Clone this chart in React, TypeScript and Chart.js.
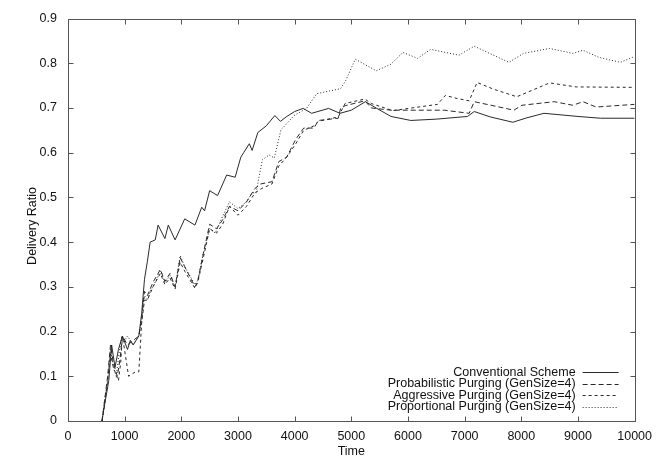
import React, { useEffect, useRef } from "react";
import { Chart, registerables } from "chart.js";

Chart.register(...registerables);

// ---- data (time, delivery ratio) ----
const conventional: [number, number][] = [
  [600, 0], [650, 0.04], [720, 0.09], [770, 0.17], [830, 0.12], [890, 0.16],
  [960, 0.19], [1050, 0.16], [1100, 0.18], [1150, 0.17], [1250, 0.19], [1300, 0.24],
  [1350, 0.317], [1400, 0.356], [1450, 0.4], [1540, 0.405], [1590, 0.438],
  [1710, 0.408], [1770, 0.438], [1890, 0.405], [2060, 0.452], [2240, 0.438],
  [2360, 0.478], [2410, 0.47], [2500, 0.515], [2640, 0.504], [2800, 0.55],
  [2950, 0.545], [3050, 0.59], [3100, 0.6], [3200, 0.62], [3250, 0.605], [3350, 0.645],
  [3500, 0.66], [3650, 0.683], [3750, 0.67], [3850, 0.68], [4000, 0.692], [4150, 0.699],
  [4300, 0.688], [4600, 0.699], [4800, 0.688], [5000, 0.695], [5250, 0.714], [5450, 0.699],
  [5700, 0.681], [6050, 0.672], [6500, 0.675], [7050, 0.681], [7170, 0.692], [7450, 0.68],
  [7850, 0.668], [8100, 0.678], [8400, 0.688], [9000, 0.681], [9400, 0.677], [10000, 0.677],
];

const probabilistic: [number, number][] = [
  [600, 0], [650, 0.05], [700, 0.1], [750, 0.17], [800, 0.13], [870, 0.1], [920, 0.14],
  [960, 0.19], [1050, 0.17], [1150, 0.18], [1250, 0.19], [1300, 0.23], [1350, 0.29],
  [1400, 0.28], [1500, 0.31], [1630, 0.339], [1710, 0.312], [1800, 0.33], [1890, 0.3],
  [1980, 0.365], [2060, 0.345], [2240, 0.3], [2290, 0.312], [2380, 0.37], [2500, 0.44],
  [2620, 0.43], [2730, 0.45], [2850, 0.48], [3000, 0.47], [3150, 0.49], [3300, 0.52],
  [3400, 0.53], [3600, 0.535], [3720, 0.58], [3860, 0.59], [4020, 0.63], [4160, 0.655],
  [4340, 0.655], [4420, 0.672], [4770, 0.677], [4810, 0.699], [4890, 0.705], [5240, 0.716],
  [5350, 0.7], [5700, 0.695], [6640, 0.695], [7080, 0.688], [7170, 0.714], [7870, 0.695],
  [8010, 0.706], [8580, 0.714], [8910, 0.706], [9090, 0.714], [9320, 0.702], [10000, 0.708],
];

const aggressive: [number, number][] = [
  [600, 0], [650, 0.04], [700, 0.09], [750, 0.15], [800, 0.12], [890, 0.09], [930, 0.13],
  [960, 0.19], [1070, 0.1], [1190, 0.11], [1250, 0.11], [1300, 0.22], [1350, 0.27],
  [1400, 0.27], [1500, 0.3], [1630, 0.33], [1710, 0.305], [1800, 0.32], [1890, 0.295],
  [1980, 0.355], [2060, 0.335], [2240, 0.297], [2290, 0.31], [2380, 0.36], [2500, 0.43],
  [2620, 0.42], [2730, 0.44], [2850, 0.48], [3000, 0.46], [3150, 0.48], [3300, 0.51],
  [3420, 0.52], [3600, 0.53], [3720, 0.57], [3860, 0.59], [4020, 0.62], [4160, 0.65],
  [4340, 0.66], [4420, 0.67], [4770, 0.68], [4890, 0.71], [5240, 0.72], [5350, 0.71],
  [5730, 0.694], [6520, 0.708], [6660, 0.728], [6870, 0.721], [7080, 0.716], [7220, 0.757],
  [7510, 0.742], [7920, 0.725], [8500, 0.756], [8970, 0.747], [10000, 0.746],
];

const proportional: [number, number][] = [
  [600, 0], [650, 0.05], [700, 0.09], [750, 0.16], [800, 0.12], [850, 0.1], [900, 0.15],
  [950, 0.19], [1000, 0.18], [1050, 0.19], [1150, 0.17], [1250, 0.19], [1300, 0.22],
  [1350, 0.28], [1400, 0.27], [1450, 0.29], [1500, 0.3], [1630, 0.335], [1710, 0.31],
  [1800, 0.325], [1890, 0.3], [1980, 0.37], [2060, 0.345], [2240, 0.305], [2290, 0.315],
  [2380, 0.37], [2500, 0.43], [2600, 0.42], [2700, 0.45], [2850, 0.49],
  [3000, 0.475], [3150, 0.49], [3250, 0.51], [3320, 0.511], [3430, 0.584], [3550, 0.595],
  [3640, 0.588], [3760, 0.652], [3810, 0.658], [3990, 0.683], [4210, 0.699], [4390, 0.732],
  [4810, 0.743], [4900, 0.761], [5070, 0.809], [5440, 0.783], [5700, 0.798], [5910, 0.824],
  [6170, 0.811], [6400, 0.831], [6900, 0.818], [7170, 0.838], [7780, 0.802], [8040, 0.822],
  [8500, 0.833], [8910, 0.822], [9090, 0.829], [9370, 0.813], [9750, 0.802], [10000, 0.815],
];

const seriesLabels = [
  "Conventional Scheme",
  "Probabilistic Purging (GenSize=4)",
  "Aggressive Purging (GenSize=4)",
  "Proportional Purging (GenSize=4)",
];
const seriesDashes: number[][] = [[], [5, 3], [3, 3], [1, 2]];
const xTitle = "Time";
const yTitle = "Delivery Ratio";
const xMin = 0, xMax = 10000, xStep = 1000;
const yMin = 0, yMax = 0.9, yStep = 0.1;

const FONT = "'Liberation Sans', Arial, sans-serif";
const LINE = "#2a2a2a";
const AXIS = "#555";

const framePlugin = {
  id: "gnuplotFrame",
  afterDraw(chart: any) {
    const { ctx, chartArea: a, scales } = chart;
    ctx.save();
    ctx.strokeStyle = AXIS;
    ctx.lineWidth = 1;
    const L = Math.round(a.left) + 0.5, R = Math.round(a.right) + 0.5;
    const T = Math.round(a.top) + 0.5, B = Math.round(a.bottom) + 0.5;
    ctx.strokeRect(L, T, R - L, B - T);
    const tl = 5;
    ctx.beginPath();
    scales.x.ticks.forEach((t: any) => {
      const px = Math.round(scales.x.getPixelForValue(t.value)) + 0.5;
      ctx.moveTo(px, B); ctx.lineTo(px, B - tl);
      ctx.moveTo(px, T); ctx.lineTo(px, T + tl);
    });
    scales.y.ticks.forEach((t: any) => {
      const py = Math.round(scales.y.getPixelForValue(t.value)) + 0.5;
      ctx.moveTo(L, py); ctx.lineTo(L + tl, py);
      ctx.moveTo(R, py); ctx.lineTo(R - tl, py);
    });
    ctx.stroke();

    // axis titles
    ctx.fillStyle = "#111";
    ctx.font = `12.5px ${FONT}`;
    ctx.textAlign = "center";
    ctx.textBaseline = "middle";
    ctx.fillText(xTitle, (a.left + a.right) / 2, 452);
    ctx.save();
    ctx.translate(33, 226);
    ctx.rotate(-Math.PI / 2);
    ctx.fillText(yTitle, 0, 0);
    ctx.restore();

    // legend (gnuplot style, inside bottom-right)
    const textRight = a.right - 59;
    const sx0 = a.right - 52, sx1 = a.right - 16;
    const rowH = 11.6;
    const y0 = a.bottom - 14 - rowH * (chart.data.datasets.length - 1);
    ctx.textAlign = "right";
    chart.data.datasets.forEach((ds: any, i: number) => {
      const y = y0 + i * rowH;
      ctx.fillStyle = "#111";
      ctx.fillText(ds.label, textRight, y);
      ctx.strokeStyle = ds.borderColor;
      ctx.lineWidth = 1;
      ctx.setLineDash(ds.borderDash || []);
      ctx.beginPath();
      ctx.moveTo(sx0, Math.round(y) + 0.5);
      ctx.lineTo(sx1, Math.round(y) + 0.5);
      ctx.stroke();
      ctx.setLineDash([]);
    });
    ctx.restore();
  },
};

export default function App() {
  const ref = useRef<HTMLCanvasElement | null>(null);
  useEffect(() => {
    if (!ref.current) return;
    const all = [conventional, probabilistic, aggressive, proportional];
    const chart = new Chart(ref.current, {
      type: "line",
      data: {
        datasets: all.map((s, i) => ({
          label: seriesLabels[i],
          data: s.map(([x, y]) => ({ x, y })),
          borderColor: LINE,
          borderWidth: 1,
          borderDash: seriesDashes[i],
          pointRadius: 0,
          fill: false,
          tension: 0,
        })),
      },
      options: {
        animation: false,
        responsive: false,
        maintainAspectRatio: false,
        layout: { padding: { top: 14, right: 22, left: 0, bottom: 0 } },
        plugins: { legend: { display: false }, tooltip: { enabled: false } },
        scales: {
          x: {
            type: "linear",
            min: xMin,
            max: xMax,
            grid: { display: false, drawTicks: false },
            border: { display: false },
            ticks: {
              stepSize: xStep,
              padding: 8,
              color: "#111",
              font: { family: FONT, size: 12.5 },
              maxRotation: 0,
              callback: (v: any) => String(v),
            },
            afterFit: (s: any) => { s.height = 40; },
          },
          y: {
            type: "linear",
            min: yMin,
            max: yMax,
            grid: { display: false, drawTicks: false },
            border: { display: false },
            ticks: {
              stepSize: yStep,
              padding: 11,
              color: "#111",
              font: { family: FONT, size: 12.5 },
              callback: (v: any) => String(Math.round(v * 10) / 10),
            },
            afterFit: (s: any) => { s.width = 68; },
          },
        },
      },
      plugins: [framePlugin],
    });
    return () => chart.destroy();
  }, []);
  return (
    <div style={{ position: "absolute", left: 0, top: 0, width: 660, height: 461, background: "#fff" }}>
      <canvas ref={ref} width={660} height={461} style={{ width: 660, height: 461 }} />
    </div>
  );
}
